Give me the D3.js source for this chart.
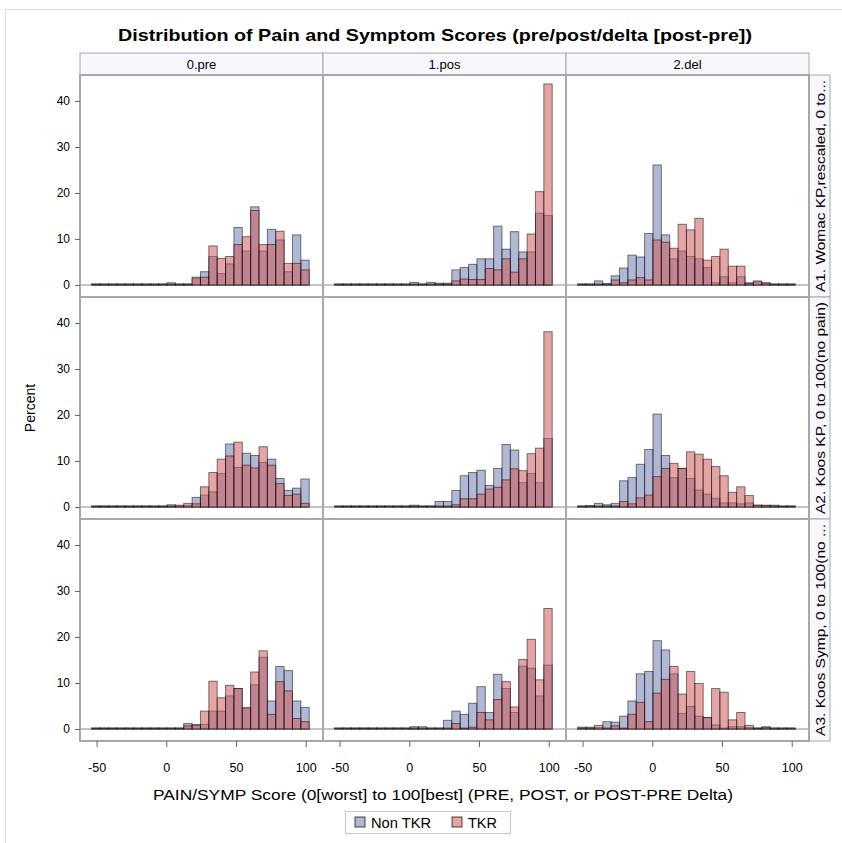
<!DOCTYPE html>
<html><head><meta charset="utf-8">
<script src="https://cdn.jsdelivr.net/npm/d3@7"></script>
<style>body{margin:0;background:#fff}svg{display:block}text{font-family:"Liberation Sans",Arial,sans-serif;fill:#000}</style>
</head><body>
<script>
// ---- data ----
const colLabels = ["0.pre", "1.pos", "2.del"];
const rowLabels = ["A1. Womac KP,rescaled, 0 to...", "A2. Koos KP, 0 to 100(no pain)", "A3. Koos Symp, 0 to 100(no ..."];
const seriesNames = ["Non TKR", "TKR"];
const binWidth = 6;
const binMids = [-50.5,-44.5,-38.5,-32.5,-26.5,-20.5,-14.5,-8.5,-2.5,3.5,9.5,15.5,21.5,27.5,33.5,39.5,45.5,51.5,57.5,63.5,69.5,75.5,81.5,87.5,93.5,99.5];
const xTicks = [-50, 0, 50, 100];
const yTicks = [0, 10, 20, 30, 40];

const nonTKR_A1_pre  = [0,0,0,0,0,0,0,0,0,0.5,0,0,1.5,2.9,6.2,2.5,4.6,12.5,7.4,17.0,7.4,12.1,9.8,2.9,10.9,5.4];
const tkr_A1_pre     = [0,0,0,0,0,0,0,0,0,0.2,0,0,1.7,1.7,8.5,5.8,6.2,8.8,10.5,16.2,8.8,8.8,11.7,4.7,4.7,3.3];
const nonTKR_A1_pos  = [0,0,0,0,0,0,0,0,0,0.6,0,0.6,0.4,0.4,3.3,3.8,4.5,5.7,5.7,12.8,7.8,11.6,7.2,7.2,15.6,15.1];
const tkr_A1_pos     = [0,0,0,0,0,0,0,0,0,0,0,0,0,0,0.9,1.3,1.2,1.2,3.6,3.3,5.7,2.8,5.7,11.1,20.3,43.7];
const nonTKR_A1_del  = [0.1,0.1,0.9,0.3,2.0,3.7,6.5,6.1,11.2,26.1,10.9,5.7,7.4,6.2,5.7,3.8,0.5,1.8,0.5,1.8,0.5,0.7,0.5,0.2,0.2,0.1];
const tkr_A1_del     = [0.1,0.1,0.2,0.2,1.1,0.5,1.1,1.6,1.1,9.8,9.3,8.0,13.2,12.0,14.5,5.4,6.2,7.8,4.1,4.1,0.3,0.9,0.4,0.1,0.1,0.1];
const nonTKR_A2_pre  = [0,0,0,0,0,0,0,0,0,0.5,0.2,0.3,2.1,2.6,3.3,7.3,13.7,8.6,11.7,11.2,9.7,10.4,6.2,3.6,4.1,6.1];
const tkr_A2_pre     = [0,0,0,0,0,0,0,0,0,0.2,0.4,0.8,0.7,4.4,7.5,10.4,11.1,14.1,9.1,8.5,13.1,9.1,5.1,2.5,2.8,0.8];
const nonTKR_A2_pos  = [0,0,0,0,0,0,0,0,0,0.4,0,0,1.2,1.2,3.6,6.8,7.5,8.0,4.7,8.4,13.6,12.4,5.3,7.3,5.3,14.9];
const tkr_A2_pos     = [0,0,0,0,0,0,0,0,0,0,0,0,0,0,0.5,1.8,1.8,2.8,3.9,4.3,5.9,8.3,7.9,11.6,12.8,38.1];
const nonTKR_A2_del  = [0.1,0.3,0.8,0.5,0.8,5.7,6.4,9.3,12.5,20.2,11.2,6.4,8.4,6.2,3.7,2.8,1.9,0.9,0.9,0.7,0.9,0.4,0.4,0.4,0.2,0.1];
const tkr_A2_del     = [0,0.1,0.2,0.2,0.2,1.2,0.7,2.0,2.6,6.6,8.4,9.5,8.4,12.0,11.5,10.4,8.8,6.8,3.2,4.4,2.5,0.4,0.3,0.2,0.1,0.1];
const nonTKR_A3_pre  = [0,0,0,0,0,0,0,0,0,0,0,1.2,1.0,1.0,3.9,3.9,7.2,8.8,4.6,9.6,15.6,6.1,13.6,12.7,6.1,4.7];
const tkr_A3_pre     = [0,0,0,0,0,0,0,0,0,0,0,0.7,0.8,3.9,10.4,6.8,9.5,8.8,4.6,12.4,17.0,3.2,10.3,8.3,2.3,1.6];
const nonTKR_A3_pos  = [0,0,0,0,0,0,0,0,0,0.5,0.5,0,0,1.9,3.9,3.2,5.6,9.2,3.6,11.9,8.8,3.6,13.7,13.2,7.2,13.9];
const tkr_A3_pos     = [0,0,0,0,0,0,0,0,0,0,0,0,0,0,1.2,0.1,0.4,3.6,2.0,6.4,10.3,4.8,15.1,19.5,10.7,26.2];
const nonTKR_A3_del  = [0.4,0.4,0.3,1.6,1.5,2.8,6.1,12.0,12.5,19.2,17.2,12.0,3.4,4.9,2.8,2.5,0.9,0.1,0.5,0.5,0.3,0.1,0.5,0.2,0.2,0.1];
const tkr_A3_del     = [0.1,0.1,0.8,0.2,0.7,0.1,3.2,5.8,1.6,7.8,10.8,13.6,7.6,12.5,9.9,2.5,8.8,8.0,2.0,3.6,0.8,0.1,0.3,0.1,0.1,0.1];

const panels = [
  [[nonTKR_A1_pre, tkr_A1_pre], [nonTKR_A1_pos, tkr_A1_pos], [nonTKR_A1_del, tkr_A1_del]],
  [[nonTKR_A2_pre, tkr_A2_pre], [nonTKR_A2_pos, tkr_A2_pos], [nonTKR_A2_del, tkr_A2_del]],
  [[nonTKR_A3_pre, tkr_A3_pre], [nonTKR_A3_pos, tkr_A3_pos], [nonTKR_A3_del, tkr_A3_del]]
];

// ---- layout ----
const W = 842, H = 843;
const gridL = 80, colW = 243, gridT = 75, rowH = 222;
const fills = ["#6F7EB3", "#D05B5B"];
const fillOp = 0.55;
const frame = "#a8a8a8";
const FONT = '"Liberation Sans",Arial,sans-serif';

const svg = d3.select("body").append("svg").attr("width", W).attr("height", H);
svg.append("rect").attr("x", 5.5).attr("y", 9.5).attr("width", W).attr("height", H).attr("fill", "none").attr("stroke", "#dcdcdc");

svg.append("text").attr("x", 435).attr("y", 41).attr("text-anchor", "middle")
  .style("font-size", "17px").style("font-weight", "bold")
  .attr("textLength", 634).attr("lengthAdjust", "spacingAndGlyphs")
  .text("Distribution of Pain and Symptom Scores (pre/post/delta [post-pre])");

// column header strip
colLabels.forEach((c, j) => {
  const x0 = gridL + j * colW;
  svg.append("rect").attr("x", x0).attr("y", 53).attr("width", colW).attr("height", gridT - 53)
    .attr("fill", "#f7f7fd").attr("stroke", frame).attr("stroke-width", 1);
  svg.append("text").attr("x", x0 + colW / 2).attr("y", 68.5).attr("text-anchor", "middle")
    .style("font-size", "13px").text(c);
});
// row header strip
rowLabels.forEach((r, i) => {
  const y0 = gridT + i * rowH;
  const xs = gridL + 3 * colW;
  svg.append("rect").attr("x", xs).attr("y", y0).attr("width", 21).attr("height", rowH)
    .attr("fill", "#f7f7fd").attr("stroke", frame).attr("stroke-width", 1);
  svg.append("text").attr("transform", `translate(${xs + 15.5},${y0 + rowH / 2}) rotate(-90)`)
    .attr("text-anchor", "middle").style("font-size", "13px")
    .attr("textLength", 212).attr("lengthAdjust", "spacingAndGlyphs").text(r);
});

panels.forEach((row, i) => {
  const y0 = gridT + i * rowH;
  const y = d3.scaleLinear().domain([-2.6, 45.65]).range([y0 + rowH, y0]);
  row.forEach((pair, j) => {
    const x0 = gridL + j * colW;
    const x = d3.scaleLinear().domain([-61.9, 112.4]).range([x0, x0 + colW]);
    const g = svg.append("g");
    g.append("rect").attr("x", x0).attr("y", y0).attr("width", colW).attr("height", rowH).attr("fill", "#fff");
    g.append("line").attr("x1", x0).attr("x2", x0 + colW).attr("y1", y(0)).attr("y2", y(0))
      .attr("stroke", "#c4c4c4").attr("stroke-width", 2);
    pair.forEach((vals, s) => {
      g.append("g").selectAll("rect").data(binMids).join("rect")
        .attr("x", d => x(d - binWidth / 2))
        .attr("width", d => x(d + binWidth / 2) - x(d - binWidth / 2))
        .attr("y", (d, k) => Math.min(y(vals[k]), y(0) - 1))
        .attr("height", (d, k) => Math.max(y(0) - y(vals[k]), 1))
        .attr("fill", fills[s]).attr("fill-opacity", fillOp)
        .attr("stroke", "#000").attr("stroke-opacity", 0.5).attr("stroke-width", 1);
    });
    g.append("rect").attr("x", x0).attr("y", y0).attr("width", colW).attr("height", rowH)
      .attr("fill", "none").attr("stroke", frame).attr("stroke-width", 2);
    if (j === 0) {
      const ax = g.append("g").attr("transform", `translate(${x0},0)`)
        .call(d3.axisLeft(y).tickValues(yTicks).tickFormat(d => String(d)).tickSize(5).tickPadding(5));
      ax.select(".domain").remove();
      ax.selectAll("line").attr("stroke", "#666");
      ax.selectAll("text").style("font-size", "12px").style("font-family", FONT).attr("fill", "#000");
    }
    if (i === 2) {
      const ax = g.append("g").attr("transform", `translate(0,${y0 + rowH})`)
        .call(d3.axisBottom(x).tickValues(xTicks).tickFormat(d => String(d)).tickSize(6).tickPadding(16));
      ax.select(".domain").remove();
      ax.selectAll("line").attr("stroke", "#666");
      ax.selectAll("text").style("font-size", "12.5px").style("font-family", FONT).attr("fill", "#000");
    }
  });
});

svg.append("text").attr("transform", "translate(35,408) rotate(-90)").attr("text-anchor", "middle")
  .style("font-size", "14px").text("Percent");
svg.append("text").attr("x", 443).attr("y", 800).attr("text-anchor", "middle")
  .style("font-size", "14px").attr("textLength", 580).attr("lengthAdjust", "spacingAndGlyphs")
  .text("PAIN/SYMP Score (0[worst] to 100[best] (PRE, POST, or POST-PRE Delta)");

// legend
const lg = svg.append("g");
lg.append("rect").attr("x", 345.5).attr("y", 811.5).attr("width", 165).attr("height", 22)
  .attr("fill", "#fff").attr("stroke", "#c8c8c8");
const legX = [355, 452];
const legW = [60, 29];
seriesNames.forEach((n, s) => {
  lg.append("rect").attr("x", legX[s]).attr("y", 817).attr("width", 10).attr("height", 10)
    .attr("fill", fills[s]).attr("fill-opacity", fillOp).attr("stroke", "#000").attr("stroke-opacity", 0.7);
  lg.append("text").attr("x", legX[s] + 16).attr("y", 827.5).style("font-size", "14px")
    .attr("textLength", legW[s]).attr("lengthAdjust", "spacingAndGlyphs").text(n);
});
</script>
</body></html>
